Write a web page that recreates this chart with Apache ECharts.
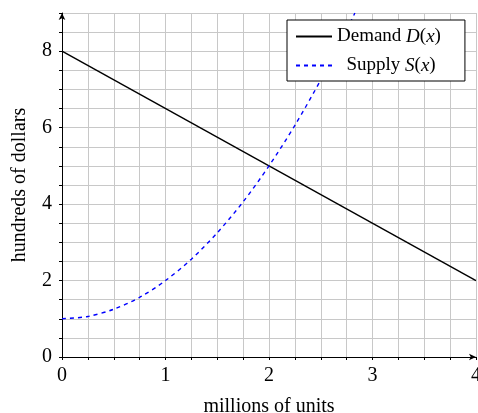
<!DOCTYPE html>
<html><head><meta charset="utf-8">
<script src="https://cdn.jsdelivr.net/npm/echarts@6/dist/echarts.min.js"></script>
<style>html,body{margin:0;padding:0;background:#fff}#c{width:478px;height:413px}</style>
</head><body><div id="c"></div>
<script>
var demandX = [0, 4];
var demandY = [8, 2];
var supplyX = [0, 0.25, 0.5, 0.75, 1, 1.25, 1.5, 1.75, 2, 2.25, 2.5, 2.75, 2.83];
var supplyY = [1, 1.06, 1.25, 1.56, 2, 2.56, 3.25, 4.06, 5, 6.06, 7.25, 8.56, 9];
var xTickLabels = ['0', '1', '2', '3', '4'];
var yTickLabels = ['0', '2', '4', '6', '8'];

function pairs(xs, ys) { return xs.map(function (x, i) { return [x, ys[i]]; }); }
var FONT = '"Liberation Serif", serif';
var FS = 20;
var chart = echarts.init(document.getElementById('c'));
chart.setOption({
  animation: false,
  grid: { left: 62, right: 2, top: 13, bottom: 56, containLabel: false, outerBoundsMode: 'none' },
  legend: {
    orient: 'vertical', left: 287, top: 20,
    padding: [7, 24, 6, 8], itemGap: 10,
    backgroundColor: '#fff', borderColor: '#000', borderWidth: 1, borderRadius: 0,
    itemWidth: 36, itemHeight: 14,
    itemStyle: { opacity: 0 },
    textStyle: {
      fontFamily: FONT, fontSize: 19, color: '#000',
      rich: { i: { fontFamily: FONT, fontSize: 19, fontStyle: 'italic', color: '#000' } }
    },
    formatter: function (n) {
      return n === 'Demand' ? 'Demand {i|D}({i|x})' : '  Supply {i|S}({i|x})';
    },
    data: ['Demand', 'Supply']
  },
  xAxis: {
    type: 'value', min: 0, max: 4, interval: 0.25,
    name: 'millions of units', nameLocation: 'middle', nameGap: 40,
    nameTextStyle: { fontFamily: FONT, fontSize: FS, color: '#000' },
    axisLine: { show: true, symbol: ['none', 'arrow'], symbolSize: [5, 7], lineStyle: { color: '#000', width: 1 } },
    axisTick: { show: true, length: 3, lineStyle: { color: '#000' } },
    axisLabel: {
      margin: 9, fontFamily: FONT, fontSize: FS, color: '#000', showMaxLabel: true,
      formatter: function (v) { return Math.abs(v - Math.round(v)) < 1e-9 ? xTickLabels[Math.round(v)] : ''; }
    },
    splitLine: { show: true, lineStyle: { color: '#c8c8c8', width: 1 } }
  },
  yAxis: {
    type: 'value', min: 0, max: 9, interval: 0.5,
    name: 'hundreds of dollars', nameLocation: 'middle', nameGap: 32,
    nameTextStyle: { fontFamily: FONT, fontSize: FS, color: '#000' },
    axisLine: { show: true, symbol: ['none', 'arrow'], symbolSize: [5, 7], lineStyle: { color: '#000', width: 1 } },
    axisTick: { show: true, length: 3, lineStyle: { color: '#000' } },
    axisLabel: {
      margin: 10, fontFamily: FONT, fontSize: FS, color: '#000',
      formatter: function (v) {
        var r = Math.round(v);
        return (Math.abs(v - r) < 1e-9 && r % 2 === 0 && r <= 8) ? yTickLabels[r / 2] : '';
      }
    },
    splitLine: { show: true, lineStyle: { color: '#c8c8c8', width: 1 } }
  },
  series: [
    { name: 'Demand', type: 'line', data: pairs(demandX, demandY), symbol: 'none',
      lineStyle: { color: '#000', width: 1.4 }, itemStyle: { color: '#000' } },
    { name: 'Supply', type: 'line', data: pairs(supplyX, supplyY), symbol: 'none', smooth: 0.3,
      lineStyle: { color: '#0000ff', width: 1.4, type: [4, 4] }, itemStyle: { color: '#0000ff' } }
  ]
});
</script></body></html>
